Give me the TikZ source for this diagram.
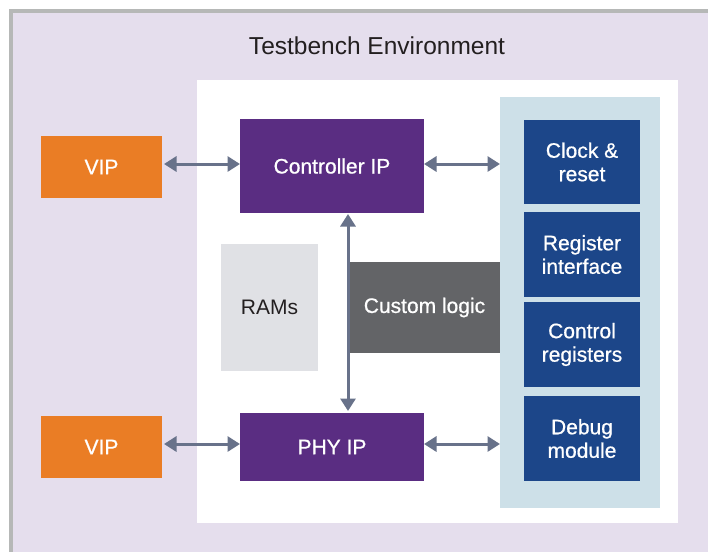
\documentclass[tikz,border=0pt]{standalone}
\usepackage{fontspec}
\setmainfont{Liberation Sans}
\newfontfamily\medfont[RawFeature={embolden=0.7}]{Liberation Sans}
\usetikzlibrary{arrows.meta}
\definecolor{bordergray}{HTML}{B6B8B7}
\definecolor{lav}{HTML}{E5DEED}
\definecolor{panelblue}{HTML}{CDE0E8}
\definecolor{vipor}{HTML}{EA7D25}
\definecolor{ippurple}{HTML}{5A2D82}
\definecolor{regblue}{HTML}{1C4689}
\definecolor{ramgray}{HTML}{E0E1E5}
\definecolor{logicgray}{HTML}{636467}
\definecolor{arrowc}{HTML}{68728A}
\definecolor{darktext}{HTML}{231F20}
\begin{document}
\begin{tikzpicture}[x=1pt,y=-1pt,
  rect/.style={inner sep=0pt, outer sep=0pt, anchor=north west, draw=none},
  blk/.style={rect, text=white, align=center, font=\medfont\fontsize{21}{23.5}\selectfont},
  conn/.style={draw=arrowc, line width=3pt,
    {Triangle[length=12.5pt,width=15pt]}-{Triangle[length=12.5pt,width=15pt]}}]
\useasboundingbox (0,0) rectangle (708,552);
% environment
\node[rect, fill=bordergray, minimum width=699pt, minimum height=543pt] (border) at (9,9) {};
\node[rect, fill=lav, minimum width=695pt, minimum height=539pt] (env) at (13,13) {};
\node[text=darktext, font=\fontsize{24.5}{28}\selectfont, inner sep=0pt] (title) at (377,46) {Testbench Environment};
\node[rect, fill=white, minimum width=481pt, minimum height=443pt] (dut) at (197,80) {};
\node[rect, fill=panelblue, minimum width=160pt, minimum height=411pt] (panel) at (500,97) {};
% blocks
\node[blk, fill=vipor, minimum width=121pt, minimum height=62pt] (vip1) at (41,136) {VIP};
\node[blk, fill=vipor, minimum width=121pt, minimum height=62pt] (vip2) at (41,416) {VIP};
\node[blk, fill=ippurple, minimum width=184pt, minimum height=94pt] (ctrl) at (240,119) {Controller IP};
\node[blk, fill=ippurple, minimum width=184pt, minimum height=68pt] (phy) at (240,413) {PHY IP};
\node[rect, fill=ramgray, text=darktext, font=\fontsize{21}{23.5}\selectfont, minimum width=97pt, minimum height=127pt] (rams) at (221,244) {RAMs};
\node[blk, fill=logicgray, minimum width=151pt, minimum height=91pt] (logic) at (349,262) {Custom logic};
\node[blk, fill=regblue, minimum width=116pt, minimum height=84pt] (clk) at (524,120) {Clock \&\\reset};
\node[blk, fill=regblue, minimum width=116pt, minimum height=85pt] (regif) at (524,212) {Register\\interface};
\node[blk, fill=regblue, minimum width=116pt, minimum height=85pt] (ctlreg) at (524,302) {Control\\registers};
\node[blk, fill=regblue, minimum width=116pt, minimum height=85pt] (dbg) at (524,396) {Debug\\module};
% connectors
\draw[conn, shorten <=2pt, transform canvas={yshift=2pt}] (vip1.east |- ctrl.west) -- (ctrl.west);
\draw[conn, transform canvas={yshift=2pt}] (ctrl.east) -- (ctrl.east -| panel.west);
\draw[conn, shorten <=2pt, transform canvas={yshift=3pt}] (vip2.east |- phy.west) -- (phy.west);
\draw[conn, transform canvas={yshift=3pt}] (phy.east) -- (phy.east -| panel.west);
\draw[conn, shorten <=1pt, shorten >=2pt, transform canvas={xshift=-1pt}] (ctrl.south -| logic.west) -- (phy.north -| logic.west);
\end{tikzpicture}
\end{document}
